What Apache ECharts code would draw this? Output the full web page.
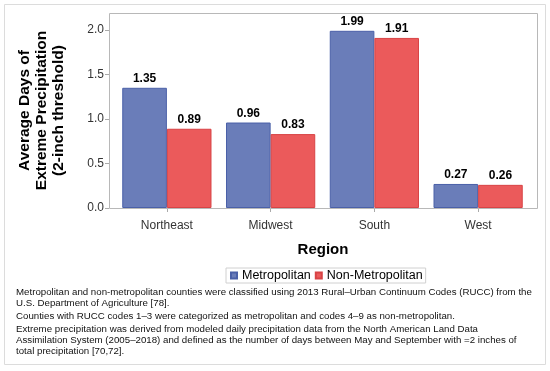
<!DOCTYPE html>
<html><head><meta charset="utf-8">
<script src="https://cdn.jsdelivr.net/npm/echarts@6/dist/echarts.min.js"></script>
<style>html,body{margin:0;padding:0;background:#fff}#c{width:550px;height:371px}</style>
</head><body><div id="c"></div>
<script>
var categories = ['Northeast', 'Midwest', 'South', 'West'];
var metropolitan = [1.35, 0.96, 1.99, 0.27];
var nonMetropolitan = [0.89, 0.83, 1.91, 0.26];
var seriesNames = ['Metropolitan', 'Non-Metropolitan'];
var yTitleLines = ['Average Days of', 'Extreme Precipitation', '(2-inch threshold)'];
var xTitle = 'Region';
var footnotes = [
  'Metropolitan and non-metropolitan counties were classified using 2013 Rural\u2013Urban Continuum Codes (RUCC) from the\nU.S. Department of Agriculture [78].',
  'Counties with RUCC codes 1\u20133 were categorized as metropolitan and codes 4\u20139 as non-metropolitan.',
  'Extreme precipitation was derived from modeled daily precipitation data from the North American Land Data\nAssimilation System (2005\u20132018) and defined as the number of days between May and September with =2 inches of\ntotal precipitation [70,72].'
];

var font = 'Arial, "Liberation Sans", sans-serif';
var chart = echarts.init(document.getElementById('c'), null, {renderer: 'canvas'});
var labelStyle = {show: true, position: 'top', distance: 3, fontFamily: font, fontSize: 12, fontWeight: 'bold', color: '#000', formatter: function(p){return p.value.toFixed(2);}};
chart.setOption({
  animation: false,
  backgroundColor: '#fff',
  textStyle: {fontFamily: font},
  grid: {left: 115, right: 20, top: 13, bottom: 163},
  legend: {
    data: seriesNames, top: 268, left: 226, icon: 'rect', itemWidth: 6, itemHeight: 6, itemGap: 4,
    borderColor: '#d0d0d0', borderWidth: 1, padding: [1, 3, 1, 4],
    textStyle: {fontFamily: font, fontSize: 12.5, color: '#000', padding: [0, 0, 0, 0]}
  },
  xAxis: {
    type: 'category', data: categories,
    axisLine: {show: false},
    axisTick: {show: true, alignWithLabel: true, length: 4, lineStyle: {color: '#aaa'}},
    axisLabel: {fontFamily: font, fontSize: 12, color: '#333', margin: 12}
  },
  yAxis: {
    type: 'value', min: 0, max: 2.19, interval: 0.5, offset: 6,
    splitLine: {show: false},
    axisLine: {show: false},
    axisTick: {show: true, length: 4, lineStyle: {color: '#aaa'}},
    axisLabel: {fontFamily: font, fontSize: 12, color: '#333', margin: 5, showMaxLabel: false,
      formatter: function(v){return v.toFixed(1);}}
  },
  series: [
    {name: seriesNames[0], type: 'bar', data: metropolitan, barGap: '0%', barCategoryGap: '14%',
     itemStyle: {color: '#6A7DB9', borderColor: '#4A60A8', borderWidth: 1}, label: labelStyle},
    {name: seriesNames[1], type: 'bar', data: nonMetropolitan,
     itemStyle: {color: '#EB5A5B', borderColor: '#D84345', borderWidth: 1}, label: labelStyle}
  ],
  graphic: [
    {type: 'rect', shape: {x: 4.5, y: 4.5, width: 541, height: 360}, style: {fill: 'none', stroke: '#dcdcdc', lineWidth: 1}, z: -1},
    {type: 'rect', shape: {x: 109.5, y: 13.5, width: 428, height: 195}, style: {fill: 'none', stroke: '#b8b8b8', lineWidth: 1}, z: 1},
    {type: 'text', x: 42, y: 110.5, rotation: Math.PI / 2,
     style: {text: yTitleLines.join('\n'), font: 'bold 15.5px ' + font, fill: '#000', textAlign: 'center', textVerticalAlign: 'middle', lineHeight: 17}},
    {type: 'text', x: 323, y: 250, style: {text: xTitle, font: 'bold 15px ' + font, fill: '#000', textAlign: 'center', textVerticalAlign: 'middle'}},
    {type: 'text', left: 16, top: 287, style: {text: footnotes[0], font: '9.7px ' + font, fill: '#111', lineHeight: 11}},
    {type: 'text', left: 16, top: 311, style: {text: footnotes[1], font: '9.7px ' + font, fill: '#111', lineHeight: 11}},
    {type: 'text', left: 16, top: 324, style: {text: footnotes[2], font: '9.7px ' + font, fill: '#111', lineHeight: 11}}
  ]
});
</script></body></html>
